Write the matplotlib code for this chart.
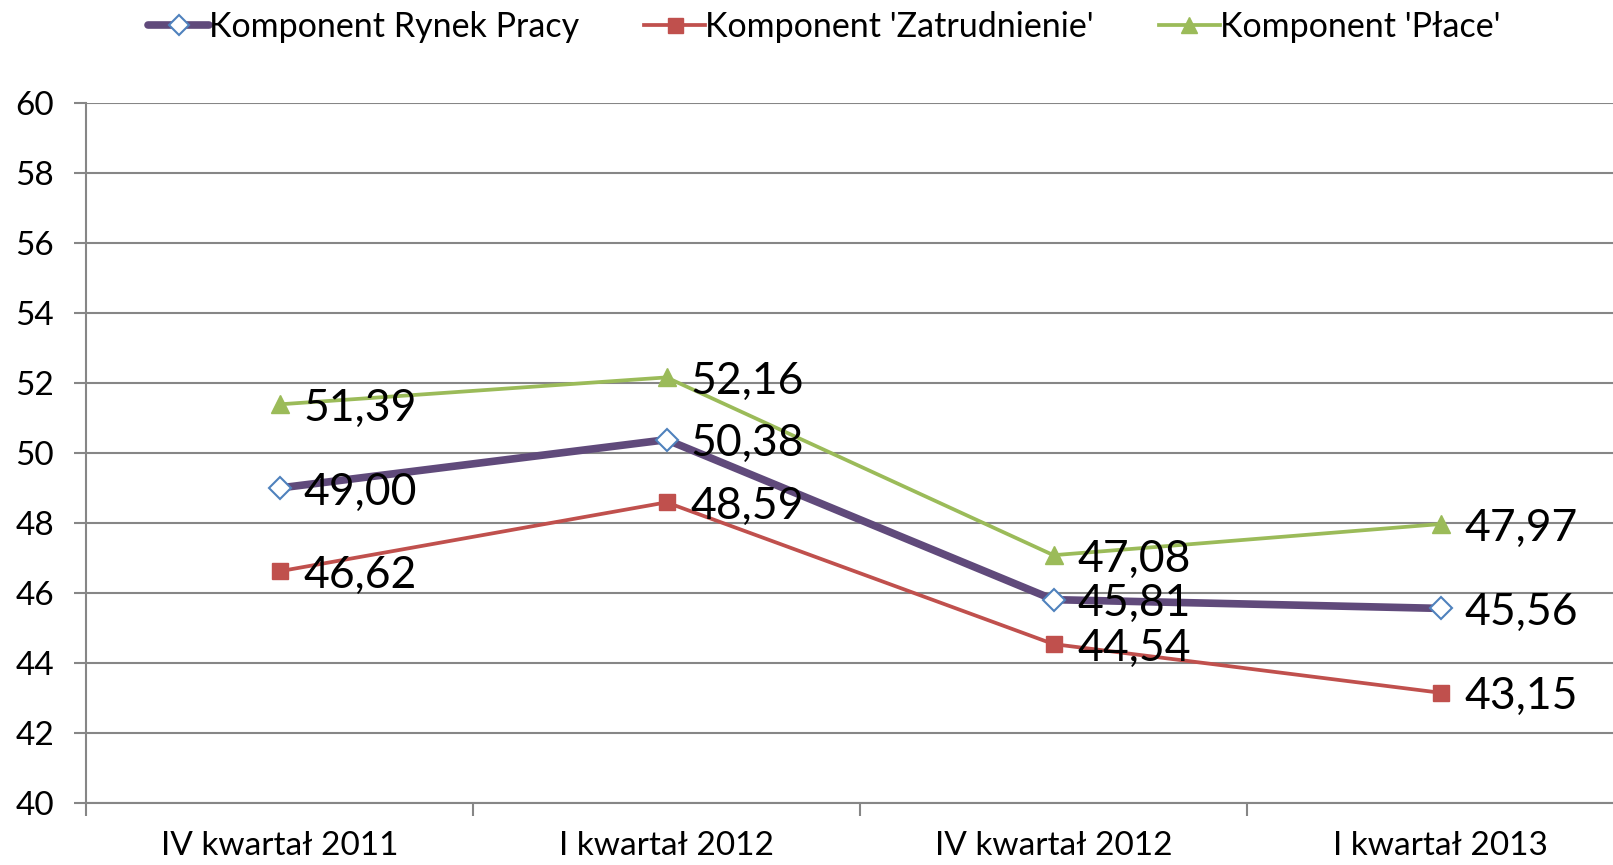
import matplotlib.pyplot as plt

plt.rcParams['font.family'] = ['Lato', 'DejaVu Sans']

# dane
kategorie = ['IV kwartał 2011', 'I kwartał 2012', 'IV kwartał 2012', 'I kwartał 2013']
rynek_pracy = [49.00, 50.38, 45.81, 45.56]
zatrudnienie = [46.62, 48.59, 44.54, 43.15]
place = [51.39, 52.16, 47.08, 47.97]

fig = plt.figure(figsize=(16.13, 8.65), dpi=100)
# prawa krawedz osi wychodzi poza obrazek jak w oryginale
ax = fig.add_axes([86 / 1613, 62 / 865, 1548 / 1613, 700 / 865])

x = list(range(len(kategorie)))

l1, = ax.plot(x, rynek_pracy, color='#604A7B', lw=5.5, marker='D', ms=11,
              mfc='white', mec='#4F81BD', mew=1.5, zorder=4,
              solid_capstyle='round', label='Komponent Rynek Pracy')
l2, = ax.plot(x, zatrudnienie, color='#C0504D', lw=2.7, marker='s', ms=12,
              mfc='#C0504D', mec='#C0504D', zorder=3, label="Komponent 'Zatrudnienie'")
l3, = ax.plot(x, place, color='#9BBB59', lw=2.7, marker='^', ms=13,
              mfc='#9BBB59', mec='#9BBB59', zorder=3, label="Komponent 'Płace'")

# etykiety danych
for seria in (rynek_pracy, zatrudnienie, place):
    for xi, v in zip(x, seria):
        ax.annotate(f"{v:.2f}".replace('.', ','), (xi, v), xytext=(17, -3),
                    textcoords='offset points', ha='left', va='center',
                    fontsize=32, zorder=5)

ax.set_xlim(-0.5, 3.5)
ax.set_ylim(40, 60)
ax.set_yticks(range(40, 61, 2))
ax.set_xticks(x)
ax.set_xticklabels(kategorie)
ax.set_xticks([-0.5, 0.5, 1.5, 2.5, 3.5], minor=True)
ax.tick_params(axis='x', which='major', length=0, pad=20, labelsize=24)
ax.tick_params(axis='x', which='minor', length=9, width=1.5, color='#868686')
ax.tick_params(axis='y', length=9, width=1.5, color='#868686', pad=14, labelsize=24)

ax.grid(axis='y', color='#868686', lw=1.5)
ax.set_axisbelow(True)
for s in ['top', 'right']:
    ax.spines[s].set_visible(False)
for s in ['left', 'bottom']:
    ax.spines[s].set_color('#868686')
    ax.spines[s].set_linewidth(1.5)

fig.legend(handles=[l1, l2, l3], loc='center', bbox_to_anchor=(0.511, 1 - 27 / 865),
           ncol=3, frameon=False, fontsize=24.5, handlelength=1.8,
           handletextpad=0.0, columnspacing=1.9, markerscale=0.9)

plt.savefig('out.png', dpi=100)
